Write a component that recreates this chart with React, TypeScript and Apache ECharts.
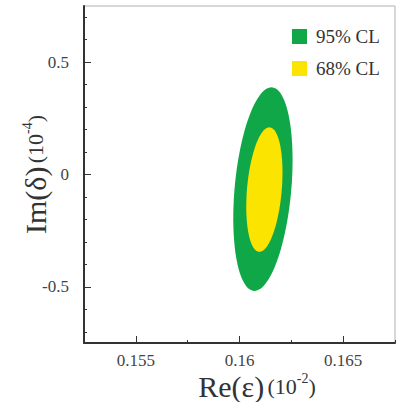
import React, { useEffect, useRef } from "react";
import * as echarts from "echarts";

const xMajorTicks = [0.155, 0.16, 0.165];
const xMinorTicks = [0.1525, 0.1575, 0.1625, 0.1675];
const yMajorTicks = [-0.5, 0, 0.5];
const yMinorTicks = [-0.7, -0.6, -0.4, -0.3, -0.2, -0.1, 0.1, 0.2, 0.3, 0.4, 0.6, 0.7];
const seriesNames = ["95% CL", "68% CL"];
// [center x, center y, top-point x, top-point y, half-width of horizontal chord through center]
const ellipse95 = [0.16113, -0.065, 0.16154, 0.388, 0.00137];
const ellipse68 = [0.1612, -0.067, 0.16144, 0.21, 0.00084];
const colors = ["#10a748", "#fbe400"];

const FONT = "'Liberation Serif', 'Times New Roman', serif";

const renderEllipse = (params: any, api: any) => {
  const cx = api.value(0);
  const cy = api.value(1);
  const tx = api.value(2);
  const ty = api.value(3);
  const w = api.value(4);
  const pts: number[][] = [];
  const n = 120;
  for (let i = 0; i < n; i++) {
    const t = (i / n) * 2 * Math.PI;
    pts.push(
      api.coord([cx + w * Math.cos(t) + (tx - cx) * Math.sin(t), cy + (ty - cy) * Math.sin(t)])
    );
  }
  return {
    type: "polygon",
    shape: { points: pts },
    style: { fill: api.visual("color") },
  };
};

export default function App() {
  const ref = useRef<HTMLDivElement>(null);
  useEffect(() => {
    if (!ref.current) return;
    const chart = echarts.init(ref.current, undefined, { renderer: "svg" });
    const fmt = (v: number) => String(Number(Number(v).toFixed(4)));
    const titleRich = {
      a: { fontFamily: FONT, fontSize: 30, lineHeight: 30, color: "#333" },
      b: { fontFamily: FONT, fontSize: 22, lineHeight: 30, color: "#333" },
      s: { fontFamily: FONT, fontSize: 14, color: "#333", verticalAlign: "top" },
    };
    chart.setOption({
      animation: false,
      backgroundColor: "#ffffff",
      grid: {
        left: 84,
        top: 6,
        width: 311,
        height: 337,
        show: true,
        borderColor: "#b0b0b0",
        borderWidth: 1,
        containLabel: false,
        outerBoundsMode: "none",
      },
      legend: {
        data: seriesNames,
        orient: "vertical",
        left: 287,
        top: 22,
        icon: "rect",
        itemWidth: 15,
        itemHeight: 15,
        itemGap: 13,
        textStyle: { fontFamily: FONT, fontSize: 19, color: "#333", padding: [0, 0, 0, 4] },
      },
      xAxis: [
        {
          type: "value",
          min: 0.1525,
          max: 0.1675,
          position: "bottom",
          name: "{a|Re(ε)} {b|(10}{s|-2}{b|)}",
          nameLocation: "middle",
          nameGap: 28,
          nameMoveOverlap: false,
          nameTextStyle: {
            padding: [0, 0, 0, 35],
            rich: titleRich,
          },
          axisLine: { show: true, onZero: false, lineStyle: { color: "#333", width: 2 } },
          axisTick: {
            show: true,
            inside: true,
            length: 7,
            customValues: xMajorTicks,
            lineStyle: { color: "#333", width: 1 },
          },
          axisLabel: {
            customValues: xMajorTicks,
            formatter: fmt,
            margin: 9,
            fontFamily: FONT,
            fontSize: 17,
            color: "#444",
          },
          splitLine: { show: false },
        },
        {
          type: "value",
          min: 0.1525,
          max: 0.1675,
          position: "bottom",
          axisLine: { show: false, onZero: false },
          axisTick: {
            show: true,
            inside: true,
            length: 3,
            customValues: xMinorTicks,
            lineStyle: { color: "#333", width: 1 },
          },
          axisLabel: { show: false },
          splitLine: { show: false },
        },
      ],
      yAxis: [
        {
          type: "value",
          min: -0.75,
          max: 0.75,
          position: "left",
          name: "{a|Im(δ)} {b|(10}{s|-4}{b|)}",
          nameLocation: "middle",
          nameGap: 34,
          nameMoveOverlap: false,
          nameTextStyle: {
            rich: titleRich,
          },
          axisLine: { show: true, onZero: false, lineStyle: { color: "#333", width: 2 } },
          axisTick: {
            show: true,
            inside: true,
            length: 7,
            customValues: yMajorTicks,
            lineStyle: { color: "#333", width: 1 },
          },
          axisLabel: {
            customValues: yMajorTicks,
            formatter: fmt,
            margin: 15,
            fontFamily: FONT,
            fontSize: 17,
            color: "#444",
          },
          splitLine: { show: false },
        },
        {
          type: "value",
          min: -0.75,
          max: 0.75,
          position: "left",
          axisLine: { show: false, onZero: false },
          axisTick: {
            show: true,
            inside: true,
            length: 3,
            customValues: yMinorTicks,
            lineStyle: { color: "#333", width: 1 },
          },
          axisLabel: { show: false },
          splitLine: { show: false },
        },
      ],
      series: [
        {
          type: "custom",
          name: seriesNames[0],
          xAxisIndex: 0,
          yAxisIndex: 0,
          renderItem: renderEllipse,
          itemStyle: { color: colors[0] },
          encode: { x: [0, 2], y: [1, 3] },
          data: [ellipse95],
        },
        {
          type: "custom",
          name: seriesNames[1],
          xAxisIndex: 0,
          yAxisIndex: 0,
          renderItem: renderEllipse,
          itemStyle: { color: colors[1] },
          encode: { x: [0, 2], y: [1, 3] },
          data: [ellipse68],
        },
      ],
    });
    return () => chart.dispose();
  }, []);
  return (
    <div
      ref={ref}
      style={{ position: "fixed", left: 0, top: 0, width: 397, height: 402, background: "#fff" }}
    />
  );
}
